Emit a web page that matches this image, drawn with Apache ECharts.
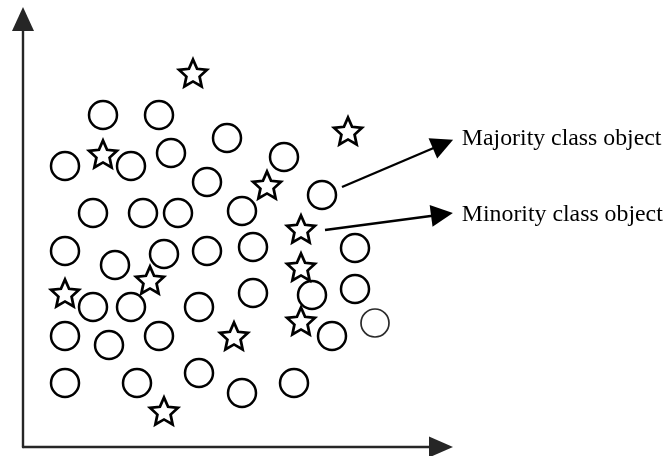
<!DOCTYPE html>
<html>
<head>
<meta charset="utf-8">
<script src="https://cdn.jsdelivr.net/npm/echarts@6/dist/echarts.min.js"></script>
<style>
  html, body { margin: 0; padding: 0; background: #ffffff; }
  #chart { width: 667px; height: 456px; }
</style>
</head>
<body>
<div id="chart"></div>
<script>
// Majority class objects (circles): [x, y] (origin at axes corner)
const majorityPoints = [
  [80, 332], [136, 332],
  [42, 281], [108, 281], [148, 294], [204, 309], [261, 290],
  [184, 265], [299, 252],
  [70, 234], [120, 234], [155, 234], [219, 236],
  [42, 196], [92, 182], [141, 193], [184, 196], [230, 200], [332, 199],
  [70, 140], [108, 140], [176, 140], [230, 154], [289, 152], [332, 158],
  [42, 111], [86, 102], [136, 111], [309, 111],
  [42, 64], [114, 64], [176, 74], [219, 54], [271, 64]
];
// One majority object drawn with a fainter outline
const majorityFaintPoints = [[352, 124]];

// Minority class objects (stars)
const minorityPoints = [
  [170, 374], [80, 293], [325, 316], [244, 262], [278, 218],
  [278, 180], [127, 167], [42, 154], [278, 126], [211, 111], [141, 36]
];

// Annotation arrows: start point, arrow-head point, label text
const annotationNames = ['Majority class object', 'Minority class object'];
const annotationStarts = [[319, 260], [302, 217]];
const annotationEnds = [[420, 303], [419, 232.5]];

// Axis extents
const xMax = 418;
const yMax = 428;

function starPath(inner) {
  const pts = [];
  for (let i = 0; i < 10; i++) {
    const a = -Math.PI / 2 + i * Math.PI / 5;
    const r = i % 2 ? inner : 1;
    pts.push((r * Math.cos(a) * 100).toFixed(2) + ' ' + (r * Math.sin(a) * 100).toFixed(2));
  }
  return 'path://M' + pts.join(' L') + ' Z';
}

const chart = echarts.init(document.getElementById('chart'), null, { renderer: 'canvas' });

const labelDistances = [[20.5, 13], [20, 0]];

chart.setOption({
  animation: false,
  backgroundColor: '#ffffff',
  grid: { left: 23, top: 19, right: 226, bottom: 9, containLabel: false },
  xAxis: {
    type: 'value', min: 0, max: xMax,
    axisLine: {
      show: true, onZero: false,
      symbol: ['none', 'triangle'], symbolSize: [21, 24],
      lineStyle: { color: '#262626', width: 2.4 }
    },
    axisTick: { show: false }, axisLabel: { show: false }, splitLine: { show: false }
  },
  yAxis: {
    type: 'value', min: 0, max: yMax,
    axisLine: {
      show: true, onZero: false,
      symbol: ['none', 'triangle'], symbolSize: [22, 24],
      lineStyle: { color: '#262626', width: 2.4 }
    },
    axisTick: { show: false }, axisLabel: { show: false }, splitLine: { show: false }
  },
  series: [
    {
      name: 'Majority class object',
      type: 'scatter',
      clip: false,
      symbol: 'circle',
      symbolSize: 28,
      itemStyle: { color: '#ffffff', borderColor: '#000000', borderWidth: 2.5, opacity: 1 },
      data: majorityPoints.concat(majorityFaintPoints.map(p => ({
        value: p,
        itemStyle: { borderColor: '#2a2a2a', borderWidth: 1.7 }
      }))),
      z: 3
    },
    {
      name: 'Minority class object',
      type: 'scatter',
      clip: false,
      symbol: starPath(0.47),
      symbolSize: [28, 27],
      itemStyle: { color: '#ffffff', borderColor: '#000000', borderWidth: 2.7, opacity: 1 },
      data: minorityPoints,
      z: 4
    },
    {
      type: 'lines',
      coordinateSystem: 'cartesian2d',
      clip: false,
      silent: true,
      symbol: ['none', 'triangle'],
      symbolSize: 22,
      lineStyle: { color: '#000000', width: 2.4, opacity: 1, curveness: 0 },
      label: {
        show: true,
        position: 'end',
        formatter: '{b}',
        color: '#000000',
        fontFamily: '"Liberation Serif", "Times New Roman", serif',
        fontSize: 23.8
      },
      data: annotationNames.map((name, i) => ({
        name: name,
        coords: [annotationStarts[i], annotationEnds[i]],
        label: { distance: labelDistances[i] }
      })),
      z: 5
    }
  ]
});
</script>
</body>
</html>
